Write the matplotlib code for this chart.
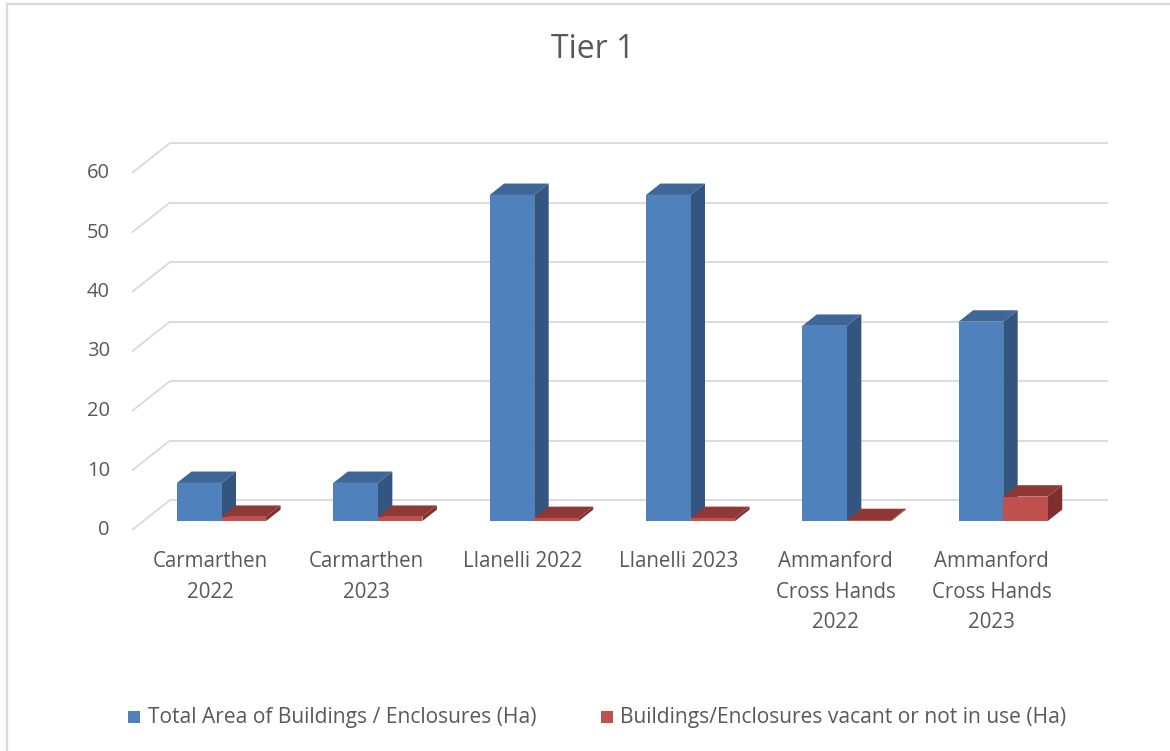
import matplotlib
matplotlib.use("Agg")
import matplotlib.pyplot as plt
from matplotlib.patches import Polygon, Rectangle

# ---------------- data ----------------
categories = ["Carmarthen\n2022", "Carmarthen\n2023", "Llanelli 2022", "Llanelli 2023",
              "Ammanford\nCross Hands\n2022", "Ammanford\nCross Hands\n2023"]
total_area = [6.4, 6.4, 54.8, 54.8, 32.8, 33.5]
vacant_area = [0.7, 0.7, 0.5, 0.5, 0.15, 4.1]
series_names = ["Total Area of Buildings / Enclosures (Ha)",
                "Buildings/Enclosures vacant or not in use (Ha)"]
y_ticks = [0, 10, 20, 30, 40, 50, 60]
title = "Tier 1"

# ---------------- style ----------------
W, H = 1170, 751
DPI = 100
FONT = "Open Sans"
TXT = "#595959"
GRID = "#D9D9D9"
blue = {"front": "#4F81BD", "top": "#3E6797", "side": "#33557F"}
red = {"front": "#C0504D", "top": "#8F3937", "side": "#7E2E2C"}

fig = plt.figure(figsize=(W / DPI, H / DPI), dpi=DPI)
fig.patch.set_facecolor("white")

def fx(px):
    return px / W

def fy(py):
    return 1 - py / H

# chart border (light grey frame)
fig.add_artist(plt.Line2D([fx(7), fx(7)], [fy(4), fy(H + 5)], color=GRID, lw=1.6,
                          transform=fig.transFigure))
fig.add_artist(plt.Line2D([fx(7), fx(W + 5)], [fy(4), fy(4)], color=GRID, lw=1.6,
                          transform=fig.transFigure))

# plot area: front floor line from x=132 to 1070 px, value 0 at y=530 px, 60 at y=173 px
ax = fig.add_axes([fx(132), fy(530), (1070 - 132) / W, (530 - 173) / H])
ax.set_xlim(0, len(categories))
ax.set_ylim(0, 60)
ax.axis("off")

# depth of the 3D wall in data units (38 px horizontally, 30 px vertically)
DX = 38 / 156.33
DY = 30 / ((530 - 173) / 60)

# gridlines: diagonal side-wall part + horizontal back-wall part
for v in y_ticks:
    ax.plot([0, DX], [v, v + DY], color=GRID, lw=1.3, clip_on=False, zorder=1,
            solid_capstyle="butt")
    ax.plot([DX, len(categories) + DX], [v + DY, v + DY], color=GRID, lw=1.3,
            clip_on=False, zorder=1, solid_capstyle="butt")
    ax.text(-0.141, v, str(v), ha="right", va="center", fontsize=14.5,
            color=TXT, family=FONT)

# bars
F0 = 0.30        # depth fraction of bar front face
FD = 0.38        # bar depth as fraction of wall depth
BW = 0.285       # bar width in category units
base = F0 * DY
ddx, ddy = FD * DX, FD * DY

def draw_bar(x0, v, cols, z):
    front = Rectangle((x0, base), BW, v, facecolor=cols["front"], edgecolor="none",
                      zorder=z, clip_on=False)
    top = Polygon([(x0, base + v), (x0 + BW, base + v),
                   (x0 + BW + ddx, base + v + ddy), (x0 + ddx, base + v + ddy)],
                  closed=True, facecolor=cols["top"], edgecolor="none", zorder=z,
                  clip_on=False)
    side = Polygon([(x0 + BW, base), (x0 + BW + ddx, base + ddy),
                    (x0 + BW + ddx, base + v + ddy), (x0 + BW, base + v)],
                   closed=True, facecolor=cols["side"], edgecolor="none", zorder=z,
                   clip_on=False)
    for p in (side, top, front):
        ax.add_patch(p)

for i, (t, r) in enumerate(zip(total_area, vacant_area)):
    cx = i + 0.5 + F0 * DX
    draw_bar(cx - BW, t, blue, 3 + 2 * i)
    draw_bar(cx, r, red, 4 + 2 * i)

# category labels
for i, lab in enumerate(categories):
    ax.text(i + 0.5, -3.55, lab, ha="center", va="top", fontsize=14.8, color=TXT,
            family=FONT, linespacing=1.6)

# title
fig.text(fx(593), fy(49), title, ha="center", va="center", fontsize=23,
         color=TXT, family=FONT)

# legend
for (sx, tx, cols, name) in [(128, 148, blue, series_names[0]),
                             (601, 620, red, series_names[1])]:
    fig.add_artist(Rectangle((fx(sx), fy(723)), 12 / W, 12 / H,
                             facecolor=cols["front"], edgecolor="none",
                             transform=fig.transFigure))
    fig.text(fx(tx), fy(717), name, ha="left", va="center", fontsize=15.1,
             color=TXT, family=FONT)

fig.savefig("out.png", dpi=DPI, facecolor="white")
